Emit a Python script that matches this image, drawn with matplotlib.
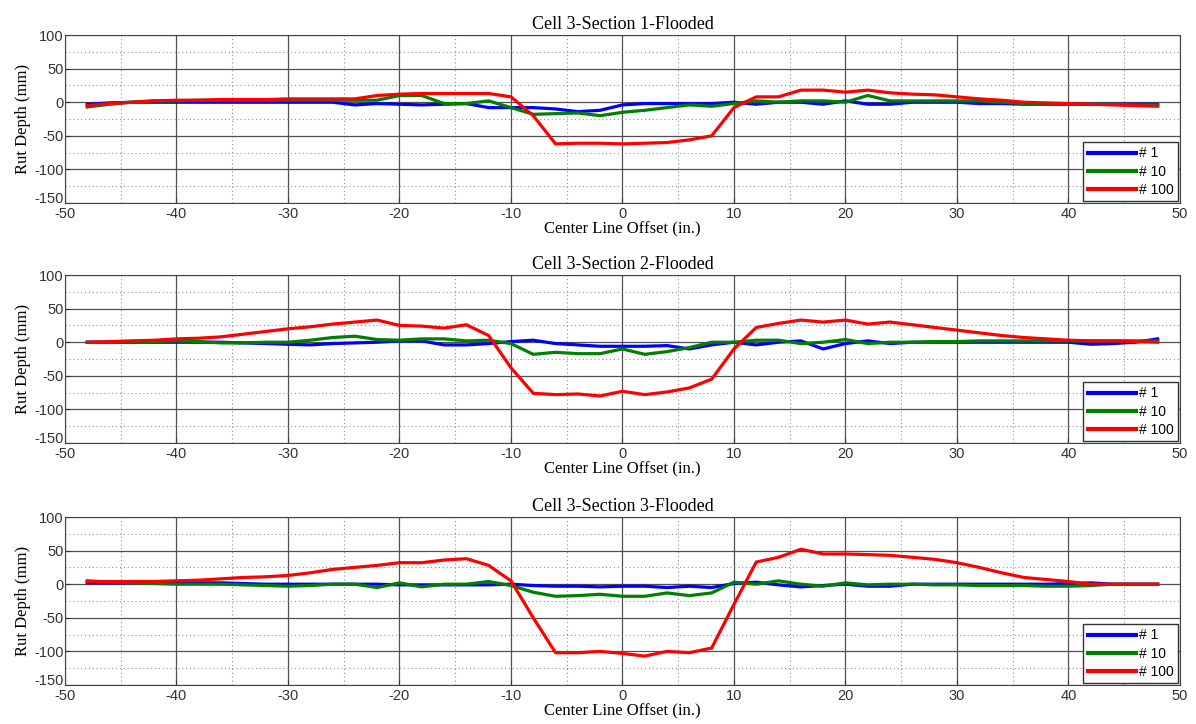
"""
Rut depth profiles, Cell 3 sections 1-3 (flooded)
"""
import numpy as np
import matplotlib.pyplot as plt
import matplotlib.transforms as mtransforms
from matplotlib.ticker import MultipleLocator

# Offsets (in.) every 2 inches
offset = np.arange(-48, 49, 2)

# Section 1
s1_n1 = [-3, -1, 0, 0, 0, 0, 0, 0, 0, 0, 0, 0, -4, -2, -3, -4, -3, -2, -8, -8, -8, -10, -14, -12, -4,
         -2, -2, -2, -2, 0, -3, 0, 0, -3, 2, -3, -3, 0, 0, 0, -2, -2, -3, -3, -3, -3, -3, -3, -3]
s1_n10 = [-7, -3, 0, 2, 2, 3, 3, 3, 3, 3, 3, 3, 3, 3, 10, 10, -2, -2, 2, -8, -18, -17, -16, -20, -15,
          -12, -8, -4, -6, -2, 2, 0, 2, 2, 0, 10, 2, 2, 2, 2, 2, 0, -2, -2, -3, -3, -3, -4, -4]
s1_n100 = [-5, -2, 0, 2, 3, 3, 4, 4, 4, 5, 5, 5, 5, 10, 12, 13, 13, 13, 13, 8, -20, -62, -61, -61, -62,
           -61, -60, -56, -50, -8, 8, 8, 18, 18, 15, 18, 14, 12, 11, 8, 5, 3, 0, -1, -2, -3, -4, -5, -6]

# Section 2
s2_n1 = [0, 0, 0, 0, 0, 0, 0, -1, -2, -3, -4, -2, -1, 0, 2, 2, -4, -4, -2, 1, 3, -2, -4, -6, -6,
         -6, -5, -10, -4, 0, -4, 0, 2, -10, -2, 2, -2, 0, 0, 0, 0, 0, 0, 0, 0, -3, -2, 0, 5]
s2_n10 = [0, 0, 1, 1, 2, 1, -1, -1, 0, 0, 3, 7, 9, 4, 3, 5, 5, 2, 3, -2, -18, -15, -17, -17, -10,
          -18, -14, -8, 0, 0, 3, 3, -2, 0, 4, -2, 0, 0, 1, 1, 2, 2, 2, 2, 2, 2, 2, 2, 2]
s2_n100 = [0, 1, 2, 3, 5, 6, 8, 12, 16, 20, 23, 27, 30, 33, 25, 24, 21, 26, 10, -38, -76, -78, -77, -80, -73,
           -78, -74, -68, -55, -10, 22, 28, 33, 30, 33, 27, 30, 26, 22, 18, 14, 10, 7, 5, 3, 2, 2, 1, 0]

# Section 3
s3_n1 = [2, 2, 2, 2, 2, 2, 2, 1, 0, 0, 0, 0, 0, 0, -1, -1, -1, -1, -1, 0, -2, -3, -3, -4, -3, -3,
         -5, -3, -5, 1, 3, -1, -4, -2, 0, -3, -3, 0, 0, 0, 0, 0, 0, 0, 1, 2, 0, 0, 0][:49]
s3_n10 = [5, 3, 2, 1, 0, 0, 0, -1, -2, -3, -2, 0, 0, -5, 2, -4, 0, 0, 4, -2, -12, -18, -17, -15, -18,
          -18, -13, -17, -13, 3, 0, 5, 0, -3, 2, -1, 0, 0, -1, -1, -2, -2, -2, -3, -3, -2, 0, 0, 0]
s3_n100 = [4, 4, 4, 4, 5, 6, 8, 10, 11, 13, 17, 22, 25, 28, 32, 32, 36, 38, 28, 5, -50, -102, -102, -100, -103,
           -107, -100, -102, -95, -30, 33, 40, 52, 45, 45, 44, 43, 40, 37, 32, 25, 17, 10, 7, 4, 0, 0, 0, 0]

titles = ['Cell 3-Section 1-Flooded', 'Cell 3-Section 2-Flooded', 'Cell 3-Section 3-Flooded']
sections = [(s1_n1, s1_n10, s1_n100), (s2_n1, s2_n10, s2_n100), (s3_n1, s3_n10, s3_n100)]
labels = ['# 1', '# 10', '# 100']
colors = ['#0000ff', '#007f00', '#ff0000']
xticks = np.arange(-50, 51, 10)
yticks = np.arange(-150, 101, 50)

fig = plt.figure(figsize=(11.96, 7.24), dpi=100)
serif = 'Liberation Serif'
plt.rcParams['font.family'] = 'Liberation Sans'
plt.rcParams['axes.unicode_minus'] = False

bottoms = [0.7196, 0.3881, 0.0539]
for k in range(3):
    ax = fig.add_axes([0.0543, bottoms[k], 0.9323, 0.232])
    for series, lab, c in zip(sections[k], labels, colors):
        ax.plot(offset, series, color=c, lw=2.3, label=lab)
    ax.set_xlim(-50, 50)
    ax.set_ylim(-150, 100)
    ax.set_xticks(xticks)
    ax.set_yticks(yticks)
    ax.xaxis.set_minor_locator(MultipleLocator(5))
    ax.yaxis.set_minor_locator(MultipleLocator(25))
    ax.grid(which='major', color='#505050', lw=0.9, ls='-')
    ax.grid(which='minor', color='#909090', lw=0.8, ls=(0, (1, 2.5)))
    ax.tick_params(which='both', direction='in', labelsize=10.5, colors='#333333', pad=1)
    ax.tick_params(axis='x', pad=3)
    ax.tick_params(which='minor', length=0)
    for sp in ax.spines.values():
        sp.set_color('#444444')
    # nudge the lowest y label up a little so it clears the -50 x label
    lab0 = ax.yaxis.get_major_ticks()[0].label1
    lab0.set_transform(lab0.get_transform()
                       + mtransforms.ScaledTranslation(0, 4 / 72, fig.dpi_scale_trans))
    ax.set_title(titles[k], fontfamily=serif, fontsize=13, pad=4)
    ax.set_xlabel('Center Line Offset (in.)', fontfamily=serif, fontsize=12, labelpad=0)
    ax.set_ylabel('Rut Depth (mm)', fontfamily=serif, fontsize=12, labelpad=2)
    leg = ax.legend(loc='lower right', fontsize=10, handlelength=3.5, handletextpad=0.2,
                    borderaxespad=0.15, fancybox=False, framealpha=1, labelspacing=0.3,
                    borderpad=0.3)
    leg.get_frame().set_edgecolor('#333333')
    for ln in leg.get_lines():
        ln.set_linewidth(3)

fig.savefig('out.png', dpi=100)
